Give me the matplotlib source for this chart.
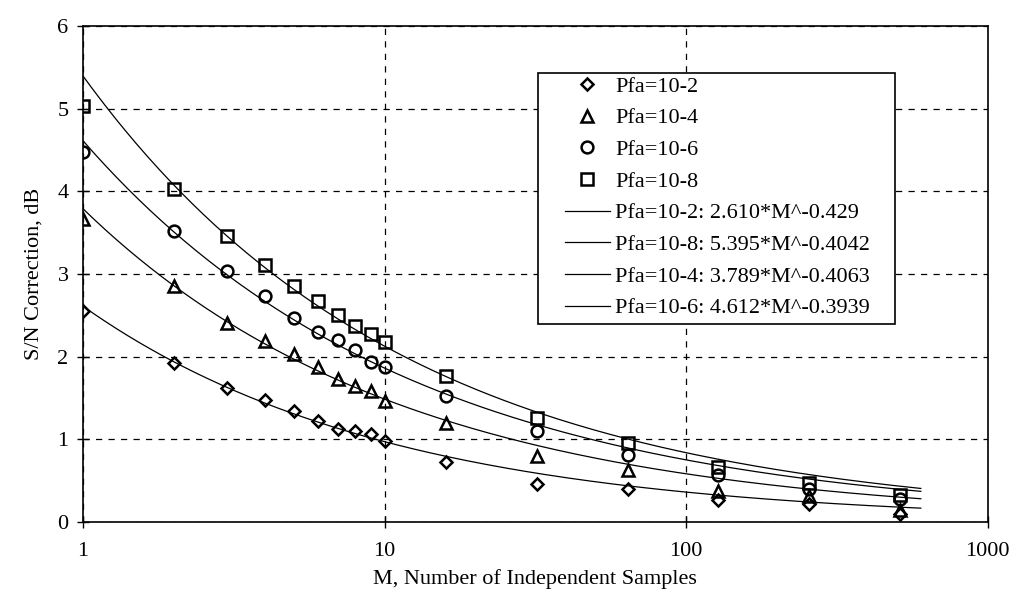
import numpy as np
import matplotlib.pyplot as plt
from matplotlib.patches import Rectangle
from matplotlib.ticker import FixedLocator, NullLocator, FixedFormatter

plt.rcParams['font.family'] = ['Liberation Serif', 'DejaVu Serif']

# number of independent samples
M = [1, 2, 3, 4, 5, 6, 7, 8, 9, 10, 16, 32, 64, 128, 256, 512]

# S/N correction (dB) for each false alarm probability
pfa2 = [2.55, 1.92, 1.62, 1.48, 1.34, 1.22, 1.13, 1.10, 1.06, 0.98, 0.73, 0.46, 0.40, 0.27, 0.22, 0.10]
pfa4 = [3.66, 2.86, 2.41, 2.19, 2.03, 1.87, 1.73, 1.65, 1.58, 1.47, 1.20, 0.80, 0.63, 0.37, 0.32, 0.15]
pfa6 = [4.48, 3.52, 3.04, 2.73, 2.47, 2.30, 2.20, 2.08, 1.94, 1.88, 1.53, 1.10, 0.81, 0.57, 0.40, 0.28]
pfa8 = [5.03, 4.03, 3.46, 3.11, 2.86, 2.67, 2.51, 2.37, 2.28, 2.18, 1.77, 1.26, 0.96, 0.66, 0.47, 0.33]

# power-law fits a*M^b
fit_labels = ['Pfa=10-2', 'Pfa=10-8', 'Pfa=10-4', 'Pfa=10-6']
fit_a = [2.610, 5.395, 3.789, 4.612]
fit_b = [-0.429, -0.4042, -0.4063, -0.3939]
fit_text = ['2.610*M^-0.429', '5.395*M^-0.4042', '3.789*M^-0.4063', '4.612*M^-0.3939']

fig = plt.figure(figsize=(10.13, 5.99), dpi=100)
ax = fig.add_axes([0.082, 0.1285, 0.893, 0.828])

mk = dict(linestyle='none', markerfacecolor='none', markeredgecolor='black',
          markeredgewidth=1.8)
ax.plot(M, pfa2, marker='D', markersize=6.5, label='Pfa=10-2', **mk)
ax.plot(M, pfa4, marker='^', markersize=8.5, label='Pfa=10-4', **mk)
ax.plot(M, pfa6, marker='o', markersize=8.5, label='Pfa=10-6', **mk)
ax.plot(M, pfa8, marker='s', markersize=8, label='Pfa=10-8', **mk)

mm = np.logspace(0, np.log10(600), 300)
for lab, a, b, txt in zip(fit_labels, fit_a, fit_b, fit_text):
    ax.plot(mm, a * mm ** b, color='black', linewidth=0.9, label=lab + ': ' + txt)

ax.set_xscale('log')
ax.set_xlim(1, 1000)
ax.set_ylim(0, 6)
ax.xaxis.set_major_locator(FixedLocator([1, 10, 100, 1000]))
ax.xaxis.set_major_formatter(FixedFormatter(['1', '10', '100', '1000']))
ax.xaxis.set_minor_locator(NullLocator())
ax.set_yticks([0, 1, 2, 3, 4, 5, 6])

ax.grid(True, which='major', color='black', linestyle=(0, (5, 5)), linewidth=0.9)
ax.tick_params(axis='both', labelsize=16, direction='inout', length=9, width=1)
ax.tick_params(axis='x', pad=10)
ax.tick_params(axis='y', pad=6)
for s in ax.spines.values():
    s.set_linewidth(1.2)

ax.set_xlabel('M, Number of Independent Samples', fontsize=16, labelpad=6)
ax.set_ylabel('S/N Correction, dB', fontsize=16, labelpad=10)

# legend box drawn as a plain white panel so the entries can sit inset
ax.add_patch(Rectangle((0.503, 0.4), 0.395, 0.505, transform=ax.transAxes,
                       facecolor='white', edgecolor='black', linewidth=1.2, zorder=3))
leg = ax.legend(loc='upper left', bbox_to_anchor=(0.533, 0.899), borderaxespad=0,
                fontsize=16, frameon=False, handlelength=2.0, labelspacing=0.5,
                borderpad=0.0, handletextpad=0.25)
leg.set_zorder(4)

fig.savefig('out.png', dpi=100)
